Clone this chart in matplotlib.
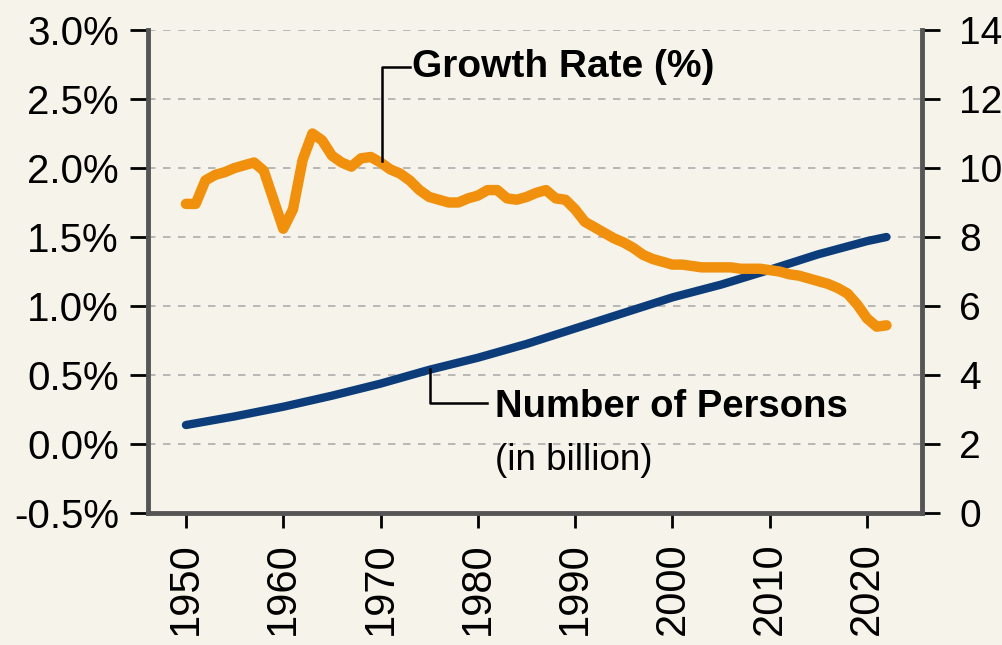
import matplotlib
matplotlib.use("Agg")
import matplotlib.pyplot as plt
import numpy as np

# ---- data ----
growth_years = list(range(1950, 2023))
growth_rate = [1.74, 1.74, 1.91, 1.95, 1.97, 2.00, 2.02, 2.04, 1.98, 1.77,
               1.56, 1.70, 2.06, 2.25, 2.20, 2.09, 2.04, 2.01, 2.07, 2.08,
               2.04, 1.99, 1.96, 1.91, 1.84, 1.79, 1.77, 1.75, 1.75, 1.78,
               1.80, 1.84, 1.84, 1.78, 1.77, 1.79, 1.82, 1.84, 1.78, 1.77,
               1.70, 1.61, 1.57, 1.53, 1.49, 1.46, 1.42, 1.37, 1.34, 1.32,
               1.30, 1.30, 1.29, 1.28, 1.28, 1.28, 1.28, 1.27, 1.27, 1.27,
               1.26, 1.25, 1.23, 1.22, 1.20, 1.18, 1.16, 1.13, 1.09, 1.01,
               0.91, 0.85, 0.86]

pop_years = [1950, 1955, 1960, 1965, 1970, 1975, 1980, 1985, 1990, 1995,
             2000, 2005, 2010, 2015, 2020, 2022]
population = [2.55, 2.80, 3.08, 3.40, 3.75, 4.15, 4.50, 4.90, 5.35, 5.80,
              6.25, 6.62, 7.05, 7.50, 7.88, 8.00]

x_ticks = [1950, 1960, 1970, 1980, 1990, 2000, 2010, 2020]
left_ticks = [-0.5, 0.0, 0.5, 1.0, 1.5, 2.0, 2.5, 3.0]
right_ticks = [0, 2, 4, 6, 8, 10, 12, 14]

# ---- style ----
BG = "#f6f4ea"
ORANGE = "#f0900c"
BLUE = "#0c3d7a"
SPINE = "#555555"
FONT = "Liberation Sans"

fig = plt.figure(figsize=(10.03, 6.45), dpi=100, facecolor=BG)
ax = fig.add_axes([148/1003, 1 - 513/645, (922-148)/1003, (513-30)/645])
ax2 = ax.twinx()
ax2.set_zorder(0)
ax.set_zorder(1)
ax.patch.set_visible(False)
ax2.patch.set_facecolor(BG)

ax.set_xlim(1946.1, 2025.65)
ax.set_ylim(-0.5, 3.0)
ax2.set_ylim(0, 14)

# gridlines
for v in left_ticks[1:]:
    ax2.axhline((v + 0.5) * 4, color="#adadad", lw=1.2, ls=(0, (4.5, 4.5)), zorder=1)

ax2.plot(pop_years, population, color=BLUE, lw=6, solid_capstyle="round", zorder=3)
ax.plot(growth_years, growth_rate, color=ORANGE, lw=7.5, solid_capstyle="round",
        solid_joinstyle="round", zorder=2)

# ticks
ax.set_xticks(x_ticks)
ax.set_xticklabels([str(y) for y in x_ticks], rotation=90, fontsize=30, family=FONT)
ax.set_yticks(left_ticks)
ax.set_yticklabels([f"{v:.1f}%" for v in left_ticks], fontsize=29, family=FONT)
ax2.set_yticks(right_ticks)
ax2.set_yticklabels([str(v) for v in right_ticks], fontsize=28, family=FONT)

ax.tick_params(axis="y", direction="out", length=13, width=2, pad=8, color="black")
ax.tick_params(axis="x", direction="out", length=11, width=2, pad=10, color="black")
ax2.tick_params(axis="y", direction="out", length=13, width=2, pad=14, color="black")

for a in (ax, ax2):
    a.spines["top"].set_visible(False)
    for s in ("left", "right", "bottom"):
        a.spines[s].set_color(SPINE)
        a.spines[s].set_linewidth(3.5)
ax2.spines["left"].set_visible(False)
ax2.spines["bottom"].set_visible(False)
ax.spines["right"].set_visible(False)

# annotations with leader lines
ax.plot([1970.1, 1970.1, 1973.0], [2.05, 2.73, 2.73], color="black", lw=1.8, zorder=4)
ax.text(1973.2, 2.73, "Growth Rate (%)", fontsize=28, fontweight="bold", family=FONT,
        va="center", ha="left", zorder=5)

ax.plot([1975.1, 1975.1, 1980.9], [0.54, 0.30, 0.30], color="black", lw=1.8, zorder=4)
ax.text(1981.8, 0.27, "Number of Persons", fontsize=27.5, fontweight="bold", family=FONT,
        va="center", ha="left", zorder=5)
ax.text(1981.8, -0.12, "(in billion)", fontsize=26.5, family=FONT,
        va="center", ha="left", zorder=5)

fig.savefig("out.png", dpi=100, facecolor=BG)
